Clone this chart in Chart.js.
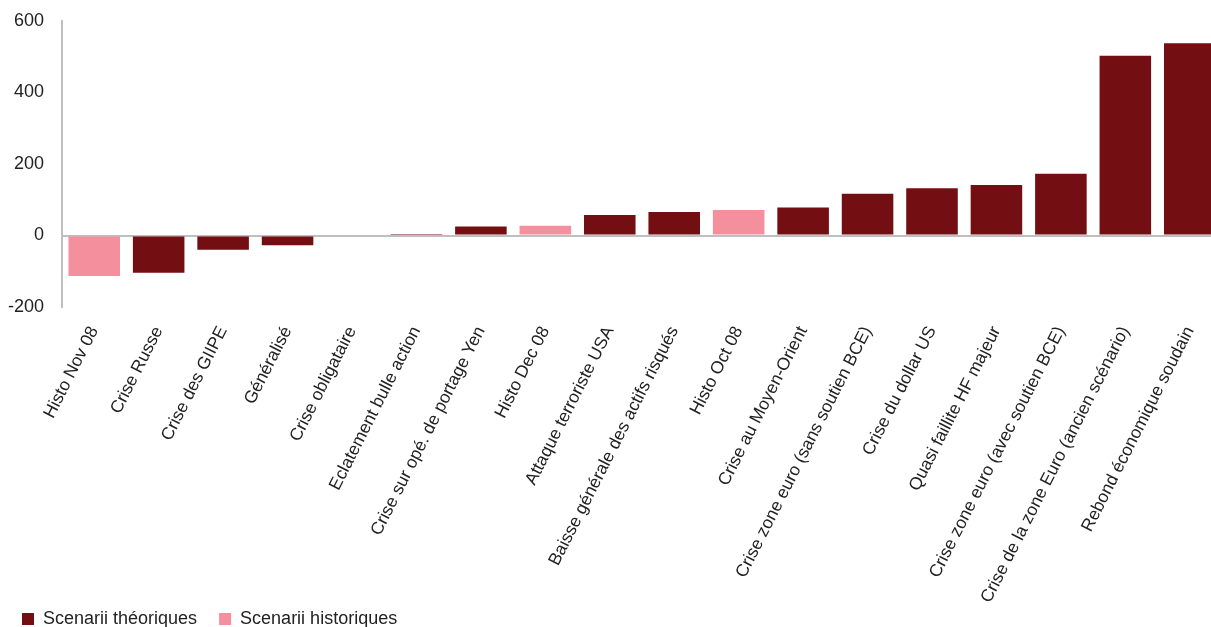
<!DOCTYPE html>
<html>
<head>
<meta charset="utf-8">
<script src="https://cdn.jsdelivr.net/npm/chart.js@4/dist/chart.umd.min.js"></script>
<style>
html,body{margin:0;padding:0;background:#fff;overflow:hidden;}
#wrap{position:relative;width:1222px;height:638px;}
</style>
</head>
<body>
<div id="wrap"><canvas id="c"></canvas></div>
<script>
const categories = [
  "Histo Nov 08","Crise Russe","Crise des GIIPE","Généralisé","Crise obligataire",
  "Eclatement bulle action","Crise sur opé. de portage Yen","Histo Dec 08",
  "Attaque terroriste USA","Baisse générale des actifs risqués","Histo Oct 08",
  "Crise au Moyen-Orient","Crise zone euro (sans soutien BCE)","Crise du dollar US",
  "Quasi faillite HF majeur","Crise zone euro (avec soutien BCE)",
  "Crise de la zone Euro (ancien scénario)","Rebond économique soudain"
];
const theoriques = [null,-104,-40,-27,0,4,25,null,57,66,null,78,117,132,141,173,503,538];
const historiques = [-113,null,null,null,null,null,null,27,null,null,71,null,null,null,null,null,null,null];
const yTicks = [-200,0,200,400,600];

const FONT = "'Liberation Sans', Arial, sans-serif";
const layoutTweaks = {
  id:'layoutTweaks',
  afterLayout(chart){
    chart.scales.x.bottom = chart.height;
    if (chart.legend) chart.legend.left = 0;
  }
};
new Chart(document.getElementById('c'), {
  type: 'bar',
  data: {
    labels: categories,
    datasets: [
      {label:'Scenarii théoriques', data: theoriques, backgroundColor:'#730f12', borderWidth:0, categoryPercentage:0.8, barPercentage:1},
      {label:'Scenarii historiques', data: historiques, backgroundColor:'#f4909d', borderWidth:0, categoryPercentage:0.8, barPercentage:1}
    ]
  },
  plugins:[layoutTweaks],
  options: {
    responsive:true, maintainAspectRatio:false, animation:false,
    layout:{padding:{top:21,left:8,right:0,bottom:0}},
    plugins:{
      legend:{position:'bottom', align:'start',
        labels:{boxWidth:12, boxHeight:12, padding:22, color:'#222', font:{family:FONT,size:18}}},
      tooltip:{enabled:false}
    },
    scales:{
      x:{stacked:true, grid:{display:false, drawTicks:false}, border:{display:false},
        afterFit:(s)=>{s.paddingLeft = 0; s.paddingRight = 0; s.height = 281;},
        ticks:{minRotation:63, maxRotation:63, autoSkip:false, color:'#222', padding:16, font:{family:FONT,size:17.5}}},
      y:{stacked:true, min:-200, max:600,
        afterBuildTicks:(ax)=>{ax.ticks = yTicks.map(v=>({value:v}));},
        afterFit:(s)=>{s.width = 54; s.paddingTop = 0; s.paddingBottom = 0;},
        grid:{drawTicks:false, color:(c)=> c.tick && c.tick.value===0 ? '#bfbfbf' : 'rgba(0,0,0,0)', lineWidth:2},
        border:{display:true, color:'#bfbfbf', width:2},
        ticks:{padding:18, color:'#222', font:{family:FONT,size:18}}}
    }
  }
});
</script>
</body>
</html>
